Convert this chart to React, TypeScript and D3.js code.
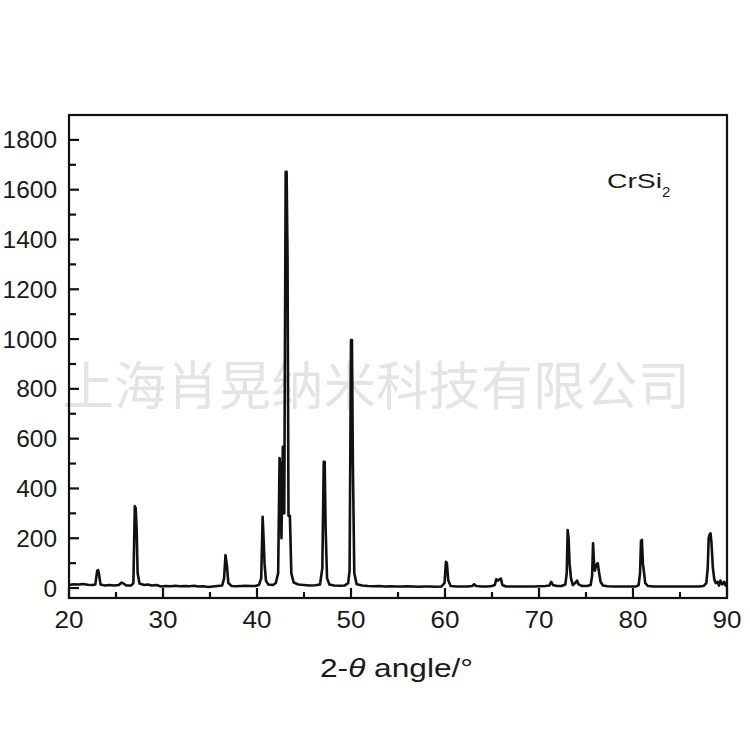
import React from "react";
import * as d3 from "d3";

const angles: number[] = [
  20.0, 20.5, 21.0, 21.5, 22.0, 22.5, 22.8, 23.0, 23.1, 23.2, 23.35, 23.8, 24.3, 24.8, 25.3, 25.6, 25.8, 26.1, 26.6,
  26.85, 27.0, 27.1, 27.2, 27.3, 27.5, 28.0, 28.4, 28.8, 29.3, 29.8, 30.3, 30.8, 31.3, 31.8, 32.3, 32.8, 33.3, 33.8,
  34.3, 34.8, 35.3, 35.8, 36.3, 36.5, 36.65, 36.8, 36.95, 37.3, 37.8, 38.3, 38.8, 39.3, 39.8, 40.2, 40.45, 40.6, 40.7,
  40.8, 40.95, 41.2, 41.7, 42.0, 42.25, 42.4, 42.5, 42.6, 42.75, 42.9, 43.05, 43.15, 43.25, 43.35, 43.5, 43.65, 43.9,
  44.4, 45.0, 45.6, 46.2, 46.7, 46.95, 47.1, 47.2, 47.3, 47.45, 47.7, 48.2, 48.8, 49.3, 49.7, 49.85, 50.0, 50.1, 50.2,
  50.35, 50.6, 51.2, 51.8, 52.4, 53.0, 53.6, 54.2, 54.8, 55.4, 56.0, 56.6, 57.2, 57.8, 58.4, 59.0, 59.6, 59.95, 60.1,
  60.2, 60.35, 60.6, 61.2, 61.8, 62.4, 62.9, 63.1, 63.3, 63.9, 64.5, 65.0, 65.3, 65.45, 65.6, 65.8, 65.95, 66.1, 66.5,
  67.1, 67.7, 68.3, 68.9, 69.5, 70.1, 70.7, 71.1, 71.3, 71.5, 71.9, 72.4, 72.8, 72.95, 73.05, 73.15, 73.25, 73.4, 73.6,
  73.9, 74.05, 74.2, 74.6, 75.1, 75.5, 75.65, 75.75, 75.85, 75.95, 76.1, 76.25, 76.4, 76.55, 76.8, 77.3, 77.9, 78.5,
  79.1, 79.7, 80.3, 80.6, 80.75, 80.85, 80.95, 81.05, 81.15, 81.3, 81.6, 82.2, 82.8, 83.4, 84.0, 84.6, 85.2, 85.8,
  86.4, 87.0, 87.5, 87.8, 87.95, 88.05, 88.15, 88.25, 88.35, 88.5, 88.65, 88.8, 89.0, 89.15, 89.3, 89.5, 89.7, 89.85,
  90.0,
];
const intensities: number[] = [
  12, 15, 14, 16, 13, 12, 14, 70, 72, 55, 14, 10, 12, 10, 12, 22, 18, 10, 10,
  20, 329, 320, 230, 60, 18, 12, 14, 10, 12, 6, 8, 7, 9, 7, 8, 7, 9, 6,
  7, 4, 6, 8, 10, 40, 132, 90, 20, 8, 7, 8, 9, 8, 8, 12, 40, 286, 200,
  100, 30, 14, 12, 20, 60, 522, 480, 200, 567, 300, 1672, 1672, 1325, 290, 290, 60, 22,
  14, 12, 10, 11, 14, 80, 507, 507, 240, 40, 14, 10, 9, 10, 20, 70, 996, 996, 500,
  60, 15, 10, 8, 7, 8, 6, 7, 6, 6, 7, 6, 5, 6, 6, 5, 6, 20, 105,
  100, 30, 8, 6, 6, 6, 8, 15, 8, 6, 6, 8, 12, 35, 30, 35, 38, 12, 6,
  6, 6, 6, 6, 6, 7, 8, 10, 25, 12, 8, 8, 14, 60, 233, 200, 100, 40, 12,
  22, 30, 15, 8, 8, 12, 50, 180, 100, 70, 95, 100, 60, 25, 10, 7, 6, 6,
  6, 6, 6, 12, 60, 190, 193, 100, 70, 20, 8, 6, 6, 6, 6, 6, 6, 6,
  6, 6, 8, 20, 80, 200, 215, 220, 180, 80, 35, 20, 25, 10, 30, 15, 25, 10,
  20,
];

const xMajorTicks: number[] = [20, 30, 40, 50, 60, 70, 80, 90];
const xMinorTicks: number[] = [25, 35, 45, 55, 65, 75, 85];
const yMajorTicks: number[] = [0, 200, 400, 600, 800, 1000, 1200, 1400, 1600, 1800];
const yMinorTicks: number[] = [100, 300, 500, 700, 900, 1100, 1300, 1500, 1700];

const sampleLabel = "CrSi";
const sampleSub = "2";
const watermark = "上海肖晃纳米科技有限公司";

export default function App() {
  const W = 750;
  const H = 750;
  const left = 69;
  const right = 727;
  const top = 115;
  const bottom = 598;

  const x = d3.scaleLinear().domain([20, 90]).range([left, right]);
  const y = d3.scaleLinear().domain([-40, 1900]).range([bottom, top]);

  const pts: [number, number][] = angles.map((a, i) => [a, intensities[i]]);
  const line = d3
    .line<[number, number]>()
    .x((d) => x(d[0]))
    .y((d) => y(d[1]));

  const font = "'Liberation Sans', Arial, Helvetica, sans-serif";

  return (
    <svg
      width={W}
      height={H}
      style={{ position: "absolute", left: 0, top: 0, background: "#fff" }}
    >
      <rect x={0} y={0} width={W} height={H} fill="#fff" />
      <text
        x={62}
        y={405}
        fontFamily="'Noto Sans CJK SC', sans-serif"
        fontSize={52}
        fill="#e4e4e4"
        textLength={628}
        lengthAdjust="spacing"
      >
        {watermark}
      </text>

      <path d={line(pts) || ""} fill="none" stroke="#111" strokeWidth={2.6} strokeLinejoin="round" />

      {/* y ticks */}
      {yMajorTicks.map((t) => (
        <g key={"ym" + t}>
          <line x1={left} x2={left + 10} y1={y(t)} y2={y(t)} stroke="#111" strokeWidth={2.2} />
          <text
            x={57}
            y={y(t) + 8.5}
            textAnchor="end"
            fontFamily={font}
            fontSize={23}
            fill="#1a1a1a"
            textLength={String(t).length * 13.6}
            lengthAdjust="spacingAndGlyphs"
          >
            {t}
          </text>
        </g>
      ))}
      {yMinorTicks.map((t) => (
        <line key={"yn" + t} x1={left} x2={left + 7} y1={y(t)} y2={y(t)} stroke="#111" strokeWidth={2.2} />
      ))}

      {/* x ticks */}
      {xMajorTicks.map((t) => (
        <g key={"xm" + t}>
          <line x1={x(t)} x2={x(t)} y1={bottom} y2={bottom - 10} stroke="#111" strokeWidth={2.2} />
          <text
            x={x(t)}
            y={628}
            textAnchor="middle"
            fontFamily={font}
            fontSize={23}
            fill="#1a1a1a"
            textLength={29}
            lengthAdjust="spacingAndGlyphs"
          >
            {t}
          </text>
        </g>
      ))}
      {xMinorTicks.map((t) => (
        <line key={"xn" + t} x1={x(t)} x2={x(t)} y1={bottom} y2={bottom - 6} stroke="#111" strokeWidth={2.2} />
      ))}

      {/* frame */}
      <rect
        x={left}
        y={top}
        width={right - left}
        height={bottom - top}
        fill="none"
        stroke="#111"
        strokeWidth={2.2}
      />

      {/* sample label */}
      <text
        x={607}
        y={188}
        fontFamily={font}
        fontSize={21}
        fill="#1a1a1a"
        textLength={55}
        lengthAdjust="spacingAndGlyphs"
      >
        {sampleLabel}
      </text>
      <text x={662} y={197} fontFamily={font} fontSize={15} fill="#1a1a1a">
        {sampleSub}
      </text>

      {/* x axis title */}
      <text
        x={320}
        y={677}
        fontFamily={font}
        fontSize={25}
        fill="#1a1a1a"
        textLength={153}
        lengthAdjust="spacingAndGlyphs"
      >
        2-<tspan fontStyle="italic">θ</tspan> angle/°
      </text>
    </svg>
  );
}
